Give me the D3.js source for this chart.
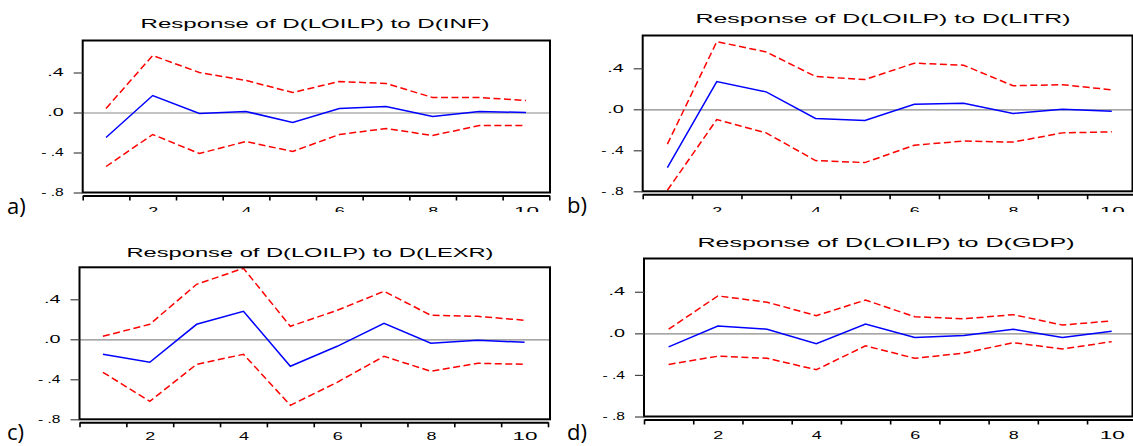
<!DOCTYPE html>
<html>
<head>
<meta charset="utf-8">
<script src="https://cdn.jsdelivr.net/npm/d3@7"></script>
<style>
  body { margin: 0; background: #fff; }
  svg { display: block; }
</style>
</head>
<body>
<script>
// impulse responses, periods 1..10
var periods = [1, 2, 3, 4, 5, 6, 7, 8, 9, 10];
var xTickLabels = [2, 4, 6, 8, 10];
var yTicks = [0.4, 0, -0.4, -0.8];
var yTickLabels = [".4", ".0", "- .4", "- .8"];
var titles = ["Response of D(LOILP) to D(INF)", "Response of D(LOILP) to D(LITR)",
              "Response of D(LOILP) to D(LEXR)", "Response of D(LOILP) to D(GDP)"];
var tags = ["a)", "b)", "c)", "d)"];

var infResp  = [-0.25, 0.17, -0.01, 0.01, -0.10, 0.04, 0.06, -0.04, 0.01, 0.00];
var infUpper = [0.04, 0.57, 0.40, 0.32, 0.20, 0.31, 0.29, 0.15, 0.15, 0.12];
var infLower = [-0.54, -0.22, -0.41, -0.29, -0.39, -0.22, -0.16, -0.23, -0.13, -0.13];

var litrResp  = [-0.57, 0.27, 0.17, -0.09, -0.11, 0.05, 0.06, -0.04, 0.00, -0.02];
var litrUpper = [-0.34, 0.66, 0.56, 0.32, 0.29, 0.45, 0.43, 0.23, 0.24, 0.19];
var litrLower = [-0.79, -0.10, -0.23, -0.50, -0.52, -0.35, -0.31, -0.32, -0.23, -0.22];

var lexrResp  = [-0.15, -0.23, 0.15, 0.28, -0.27, -0.07, 0.16, -0.04, -0.01, -0.03];
var lexrUpper = [0.03, 0.15, 0.55, 0.71, 0.13, 0.29, 0.48, 0.24, 0.23, 0.19];
var lexrLower = [-0.33, -0.62, -0.25, -0.15, -0.66, -0.43, -0.17, -0.32, -0.24, -0.25];

var gdpResp  = [-0.13, 0.07, 0.04, -0.10, 0.09, -0.04, -0.02, 0.04, -0.04, 0.02];
var gdpUpper = [0.04, 0.36, 0.30, 0.17, 0.32, 0.16, 0.14, 0.18, 0.08, 0.12];
var gdpLower = [-0.30, -0.22, -0.24, -0.35, -0.12, -0.24, -0.19, -0.09, -0.15, -0.08];

var series = [
  [infResp, infUpper, infLower],
  [litrResp, litrUpper, litrLower],
  [lexrResp, lexrUpper, lexrLower],
  [gdpResp, gdpUpper, gdpLower]
];

// where each panel sits on the page
var layout = [
  {x0: 82.7, x1: 549.3, frameR: 550, yTop: 40.5, yBot: 192.5, titleX: 315, titleY: 27.7, titleW: 349, tagX: 7, tagY: 214, labY: 215, clipY: 212},
  {x0: 642.7, x1: 1136.5, frameR: 1132.5, yTop: 35.5, yBot: 191.3, titleX: 883, titleY: 23.3, titleW: 375, tagX: 567, tagY: 213, labY: 215, clipY: 212},
  {x0: 79.5, x1: 548, frameR: 550, yTop: 267.3, yBot: 419.3, titleX: 310, titleY: 256.7, titleW: 367, tagX: 7, tagY: 440, labY: 440, clipY: 446},
  {x0: 644, x1: 1136.3, frameR: 1132.5, yTop: 258.5, yBot: 416.5, titleX: 886, titleY: 246.7, titleW: 377, tagX: 567, tagY: 440, labY: 438.5, clipY: 446}
];

var svg = d3.select("body").append("svg")
    .attr("width", 1133)
    .attr("height", 446);

var font = "'Liberation Sans', Arial, sans-serif";

layout.forEach(function (L, p) {
  var x = d3.scaleLinear().domain([0.5, 10.5]).range([L.x0, L.x1]);
  var y = d3.scaleLinear().domain([-0.8, 0.72]).range([L.yBot, L.yTop]);

  svg.append("clipPath").attr("id", "clip" + p)
    .append("rect").attr("x", 0).attr("y", 0).attr("width", 1133).attr("height", L.clipY);

  var g = svg.append("g").attr("clip-path", "url(#clip" + p + ")");

  // title
  g.append("text")
    .attr("x", L.titleX).attr("y", L.titleY)
    .attr("text-anchor", "middle")
    .attr("font-family", font).attr("font-size", 13)
    .attr("textLength", L.titleW).attr("lengthAdjust", "spacingAndGlyphs")
    .text(titles[p]);

  // zero line
  g.append("line")
    .attr("x1", L.x0).attr("x2", L.frameR)
    .attr("y1", y(0) + 0.5).attr("y2", y(0) + 0.5)
    .attr("stroke", "#8a8a8a").attr("stroke-width", 1.2);

  var line = d3.line()
    .x(function (d, i) { return x(periods[i]); })
    .y(function (d) { return y(d); });

  // bands then response
  [series[p][1], series[p][2]].forEach(function (band) {
    g.append("path").datum(band)
      .attr("d", line)
      .attr("fill", "none")
      .attr("stroke", "#ff0000")
      .attr("stroke-width", 1.5)
      .attr("stroke-dasharray", "7,3.5");
  });
  g.append("path").datum(series[p][0])
    .attr("d", line)
    .attr("fill", "none")
    .attr("stroke", "#0000ff")
    .attr("stroke-width", 1.5);

  // frame
  g.append("rect")
    .attr("x", L.x0).attr("y", L.yTop)
    .attr("width", L.frameR - L.x0).attr("height", L.yBot - L.yTop)
    .attr("fill", "none").attr("stroke", "#000").attr("stroke-width", 2);

  // y axis
  var ya = g.append("g").attr("transform", "translate(" + L.x0 + ",0)")
    .call(d3.axisLeft(y).tickValues(yTicks).tickSize(9).tickPadding(10)
      .tickFormat(function (d, i) { return yTickLabels[i]; }));
  ya.select(".domain").remove();
  ya.selectAll(".tick line").attr("stroke", "#444").attr("stroke-width", 1.2);
  ya.selectAll(".tick text")
    .attr("font-family", font).attr("font-size", 10)
    .attr("fill", "#000")
    .attr("textLength", function (d, i) { return yTickLabels[i].length > 2 ? 22.5 : 16.5; })
    .attr("lengthAdjust", "spacingAndGlyphs");

  // x axis: ticks at period boundaries, labels at even periods
  var axY = L.yBot + 3;
  var xa = g.append("g").attr("transform", "translate(0," + axY + ")")
    .call(d3.axisBottom(x).tickValues(d3.range(0.5, 11, 1)).tickSize(5).tickSizeOuter(0).tickFormat(""));
  xa.select(".domain").attr("stroke", "#000").attr("stroke-width", 2);
  xa.selectAll(".tick line").attr("stroke", "#000").attr("stroke-width", 1.6);

  var xl = g.append("g").attr("transform", "translate(0," + axY + ")")
    .call(d3.axisBottom(x).tickValues(xTickLabels).tickSize(0));
  xl.select(".domain").remove();
  xl.selectAll(".tick text")
    .attr("y", L.labY - axY).attr("dy", null)
    .attr("font-family", font).attr("font-size", 11.5)
    .attr("fill", "#000")
    .attr("textLength", function (d) { return String(d).length > 1 ? 25 : 10; })
    .attr("lengthAdjust", "spacingAndGlyphs");

  // panel letter
  svg.append("text")
    .attr("x", L.tagX).attr("y", L.tagY)
    .attr("font-family", "'Open Sans', sans-serif").attr("font-size", 22)
    .text(tags[p]);
});
</script>
</body>
</html>
